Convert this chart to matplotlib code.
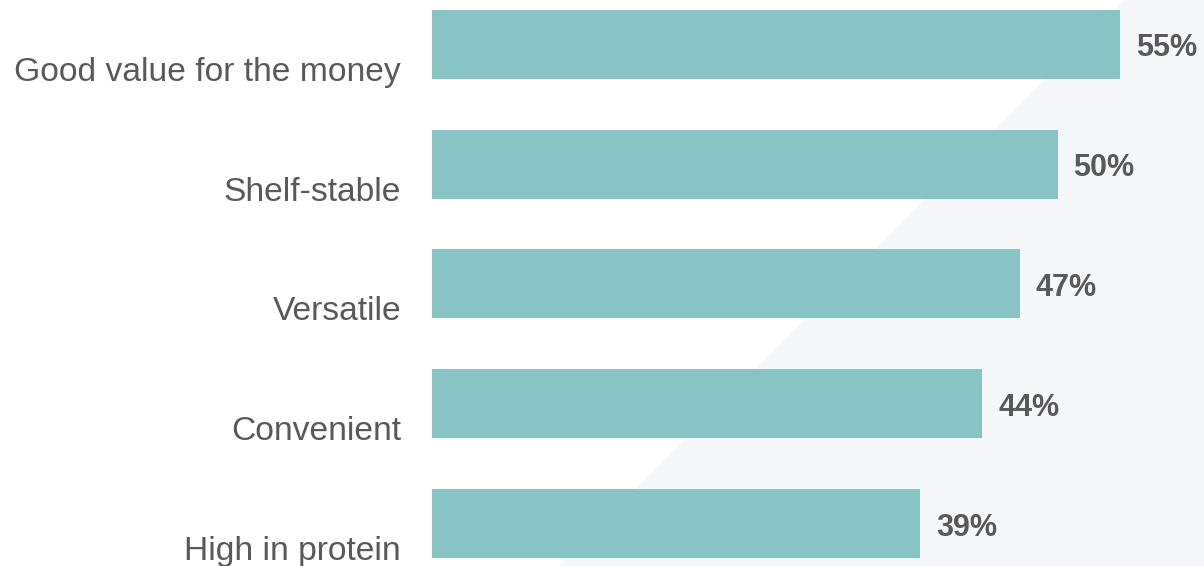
import matplotlib.pyplot as plt
from matplotlib.patches import Polygon

# Share of respondents citing each attribute
categories = ["Good value for the money", "Shelf-stable", "Versatile",
              "Convenient", "High in protein"]
values = [55, 50, 47, 44, 39]

bar_color = "#89C4C4"
text_color = "#595959"
px = 0.72  # points per pixel at dpi=100

plt.rcParams['font.family'] = ['Liberation Sans', 'DejaVu Sans']

fig = plt.figure(figsize=(12.04, 5.66), dpi=100)
fig.patch.set_facecolor("white")

ax = fig.add_axes([432 / 1204, 0, 1 - 432 / 1204, 1])
ax.set_facecolor("none")

# light diagonal panel in the background
ax.add_patch(Polygon([(1125 / 1204, 1), (1, 1), (1, 0), (559 / 1204, 0)],
                     closed=True, transform=fig.transFigure,
                     facecolor="#F6F7F9", edgecolor="none", zorder=0,
                     clip_on=False))

pitch = 119.75
ypos = list(range(len(categories)))
ax.barh(ypos, values, height=69 / pitch, color=bar_color, zorder=2)

ax.set_xlim(0, (1204 - 432) / 12.51)
ax.set_ylim((566 - 44.5) / pitch, -44.5 / pitch)
ax.axis("off")

for i, (cat, v) in enumerate(zip(categories, values)):
    ax.annotate(cat, xy=(0, i), xytext=(-31 * px, -28 * px),
                textcoords="offset points", ha="right", va="center",
                fontsize=24.2, color=text_color, annotation_clip=False)
    ax.annotate(f"{v}%", xy=(v, i), xytext=(16 * px, -4 * px),
                textcoords="offset points", ha="left", va="center",
                fontsize=22, fontweight="bold", color=text_color,
                annotation_clip=False, zorder=3)

fig.savefig("out.png", dpi=100)
